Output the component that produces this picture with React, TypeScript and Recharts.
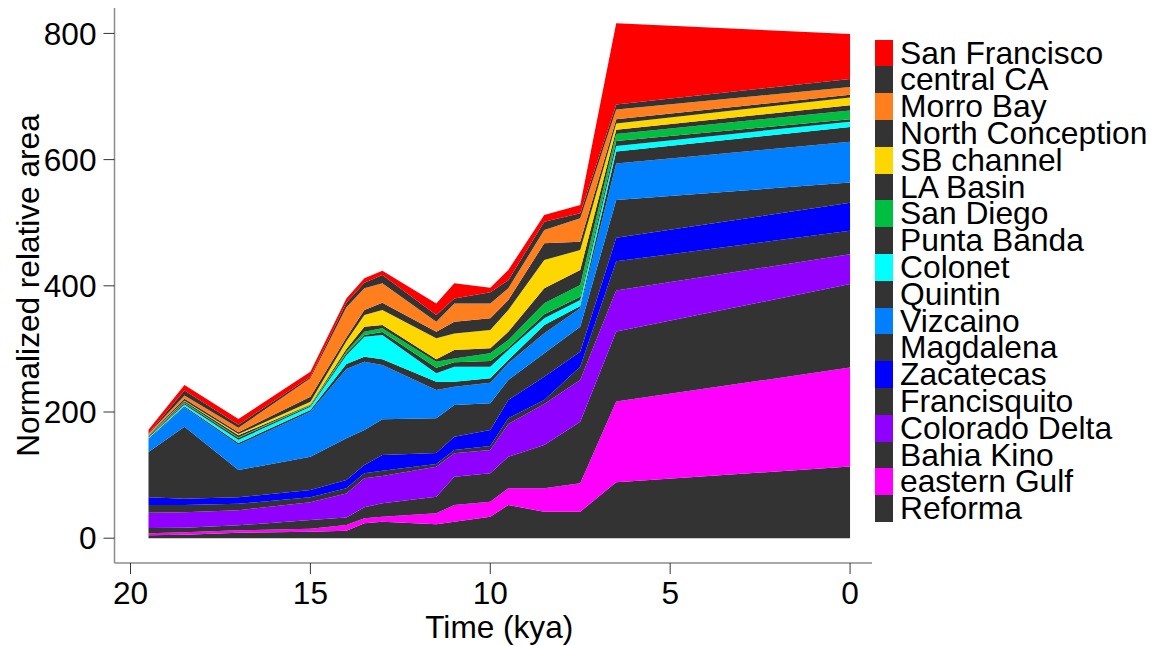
import { Area, AreaChart, XAxis, YAxis } from "recharts";

const FONT = '"Liberation Sans", Arial, Helvetica, sans-serif';
const DARK = "#333333";
const TEXT_SIZE = 31.6;

// time points in kya (x axis runs 20 -> 0)
const times = [19.5, 18.5, 17, 15, 14, 13.5, 13, 11.5, 11, 10, 9.5, 8.5, 7.5, 6.5, 0];

// stacked bottom -> top
const reforma = [4.6, 5.5, 8.5, 10.3, 12, 23.6, 26.2, 22, 26.2, 34, 52.6, 42, 42, 88.6, 113.6];
const easternGulf = [3.4, 4, 4, 4.7, 9, 7.9, 7.8, 17.5, 26.4, 23.8, 26.4, 37, 45, 127.9, 156.8];
const bahiaKino = [8, 7.1, 8, 13.8, 12, 17.5, 21.3, 26.3, 44.9, 45, 50.2, 68.7, 97.6, 111.1, 132.3];
const coloradoDelta = [24.5, 24.4, 24, 28.1, 38, 46, 43.3, 47.5, 37, 37, 51.8, 65, 66.1, 65.1, 47.3];
const francisquito = [12.1, 11.6, 10, 7.9, 8, 7.8, 8.4, 4.3, 5.3, 6.2, 9, 6.3, 21.1, 46.1, 37.2];
const zacatecas = [12.4, 9.9, 10.5, 11.6, 13.2, 13.2, 24.9, 17.4, 21.1, 25.5, 29, 37, 23.8, 37.2, 44.5];
const magdalena = [71.5, 114.2, 43, 52.8, 66.1, 55.5, 56.5, 55, 50.1, 42.2, 31.7, 37, 39.6, 60, 32.2];
const vizcaino = [20.2, 30.7, 40, 71.3, 109.7, 108.2, 86.1, 45, 29.2, 32.8, 26.5, 31.7, 29.1, 58, 64.5];
const quintin = [1.5, 1.6, 3, 2.5, 8, 8, 9, 13, 7.8, 6.9, 5.2, 13.2, 3.7, 18.8, 23.3];
const colonet = [1.5, 3, 5, 5.4, 14, 31.7, 38.5, 13.3, 23.8, 18.4, 15.9, 10.6, 9.5, 8.9, 8.3];
const puntaBanda = [1, 2, 3, 1.6, 3, 2.6, 5, 8.7, 7.2, 9.2, 3.7, 6.5, 5.2, 7.8, 4];
const sanDiego = [0.5, 1, 1, 1, 3, 5.3, 5.6, 9.7, 6, 12, 12, 17.2, 18.6, 11.1, 14];
const laBasin = [1, 2, 3, 1, 4, 7.9, 5.3, 3.8, 13.3, 8, 13.3, 23.8, 23.7, 6.6, 8.2];
const sbChannel = [0.8, 1, 2, 4.3, 12, 18.5, 23.7, 33.3, 26.3, 29, 34.3, 44.9, 31.7, 10, 12.2];
const northConception = [1, 3, 3, 8, 6, 7.9, 11.6, 10.5, 18.6, 18.5, 15.9, 26.4, 13.3, 6.8, 4.5];
const morroBay = [1, 5, 7, 29.1, 48, 34.4, 30.8, 15.9, 28.8, 23.5, 18.5, 21.1, 37, 15.6, 12.1];
const centralCA = [1, 8, 5, 2.6, 7, 8.9, 13.1, 10.5, 8, 18, 13, 13.2, 8, 7.7, 12.9];
const sanFrancisco = [6, 9, 9, 8, 7, 7, 6.9, 18.3, 24, 7, 16, 10.6, 13, 128.7, 71.1];

const yTicks = [0, 200, 400, 600, 800];
const xTicks = [0, 5, 10, 15, 20];

const series = [
  { key: "Reforma", color: DARK, values: reforma },
  { key: "eastern Gulf", color: "#ff00ff", values: easternGulf },
  { key: "Bahia Kino", color: DARK, values: bahiaKino },
  { key: "Colorado Delta", color: "#8f00ff", values: coloradoDelta },
  { key: "Francisquito", color: DARK, values: francisquito },
  { key: "Zacatecas", color: "#0000ff", values: zacatecas },
  { key: "Magdalena", color: DARK, values: magdalena },
  { key: "Vizcaino", color: "#0080ff", values: vizcaino },
  { key: "Quintin", color: DARK, values: quintin },
  { key: "Colonet", color: "#00ffff", values: colonet },
  { key: "Punta Banda", color: DARK, values: puntaBanda },
  { key: "San Diego", color: "#00bf40", values: sanDiego },
  { key: "LA Basin", color: DARK, values: laBasin },
  { key: "SB channel", color: "#ffd700", values: sbChannel },
  { key: "North Conception", color: DARK, values: northConception },
  { key: "Morro Bay", color: "#ff7f1f", values: morroBay },
  { key: "central CA", color: DARK, values: centralCA },
  { key: "San Francisco", color: "#ff0000", values: sanFrancisco },
];

const data = times.map((t, i) => {
  const row: Record<string, number> = { t };
  series.forEach((s) => {
    row[s.key] = s.values[i];
  });
  return row;
});

const tickStyle = { fontSize: TEXT_SIZE, fill: "#000", fontFamily: FONT };

function YLabel(props: any) {
  const vb = props.viewBox;
  const cx = 28;
  const cy = vb.y + vb.height / 2;
  return (
    <text
      x={cx}
      y={cy}
      transform={`rotate(-90, ${cx}, ${cy})`}
      textAnchor="middle"
      dominantBaseline="central"
      fontSize={TEXT_SIZE}
      fontFamily={FONT}
      fill="#000"
    >
      Normalized relative area
    </text>
  );
}

function XLabel(props: any) {
  const vb = props.viewBox;
  return (
    <text
      x={vb.x + vb.width / 2 + 6}
      y={627}
      textAnchor="middle"
      dominantBaseline="central"
      fontSize={TEXT_SIZE}
      fontFamily={FONT}
      fill="#000"
    >
      Time (kya)
    </text>
  );
}

function RegionLegend() {
  return (
    <div
      style={{
        position: "absolute",
        left: 875,
        top: 39.6,
        fontFamily: FONT,
        fontSize: 31.8,
        color: "#000",
      }}
    >
      {[...series].reverse().map((s) => (
        <div key={s.key} style={{ display: "flex", alignItems: "center", height: 26.8 }}>
          <div style={{ width: 18, height: 26.8, background: s.color }} />
          <div
            style={{
              marginLeft: 7,
              height: 26.8,
              lineHeight: "26.8px",
              whiteSpace: "nowrap",
              overflow: "visible",
            }}
          >
            {s.key}
          </div>
        </div>
      ))}
    </div>
  );
}

export default function App() {
  return (
    <div style={{ position: "absolute", left: 0, top: 0, width: 1156, height: 646, background: "#fff" }}>
      <AreaChart
        width={1156}
        height={646}
        data={data}
        margin={{ top: 8, right: 284, bottom: 0, left: 0 }}
      >
        <XAxis
          dataKey="t"
          type="number"
          domain={[-0.61, 20.445]}
          allowDataOverflow
          reversed
          ticks={xTicks}
          tick={tickStyle}
          tickSize={11}
          tickMargin={8}
          tickLine={{ stroke: "#333" }}
          axisLine={{ stroke: "#8c8c8c", strokeWidth: 1.5 }}
          height={83}
          label={XLabel}
        />
        <YAxis
          type="number"
          domain={[-39.3, 840.3]}
          allowDataOverflow
          ticks={yTicks}
          tick={tickStyle}
          tickSize={11}
          tickMargin={7}
          tickLine={{ stroke: "#333" }}
          axisLine={{ stroke: "#8c8c8c", strokeWidth: 1.5 }}
          width={114.5}
          label={YLabel}
        />
        {series.map((s) => (
          <Area
            key={s.key}
            type="linear"
            dataKey={s.key}
            stackId="1"
            stroke="none"
            fill={s.color}
            fillOpacity={1}
            dot={false}
            activeDot={false}
            isAnimationActive={false}
          />
        ))}
      </AreaChart>
      <RegionLegend />
    </div>
  );
}
